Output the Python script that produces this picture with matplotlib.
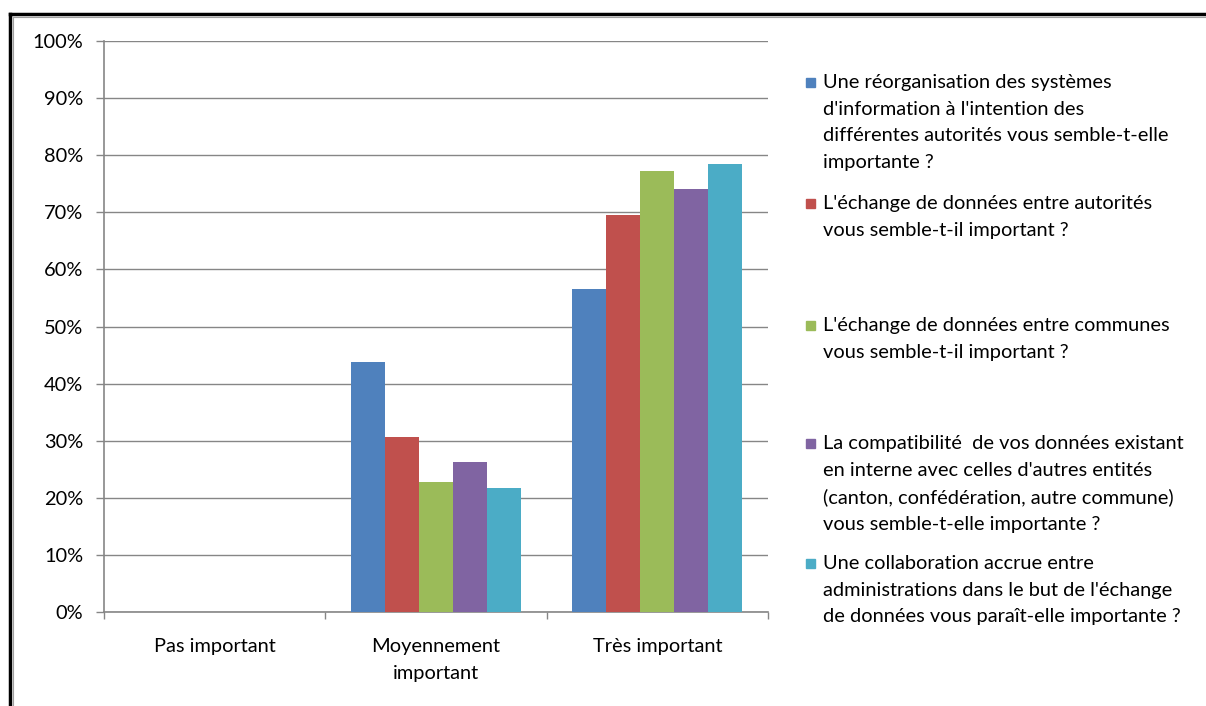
import matplotlib.pyplot as plt
import numpy as np
from matplotlib.lines import Line2D
from matplotlib.patches import Rectangle

categories = ["Pas important", "Moyennement\nimportant", "Très important"]
series_labels = [
    "Une réorganisation des systèmes\nd'information à l'intention des\ndifférentes autorités vous semble-t-elle\nimportante ?",
    "L'échange de données entre autorités\nvous semble-t-il important ?",
    "L'échange de données entre communes\nvous semble-t-il important ?",
    "La compatibilité  de vos données existant\nen interne avec celles d'autres entités\n(canton, confédération, autre commune)\nvous semble-t-elle importante ?",
    "Une collaboration accrue entre\nadministrations dans le but de l'échange\nde données vous paraît-elle importante ?",
]
reorganisation = [0.0, 43.7, 56.5]
echange_autorites = [0.0, 30.6, 69.6]
echange_communes = [0.0, 22.7, 77.2]
compatibilite = [0.0, 26.2, 74.0]
collaboration = [0.0, 21.8, 78.4]
series_values = [reorganisation, echange_autorites, echange_communes,
                 compatibilite, collaboration]
colors = ["#4F81BD", "#C0504D", "#9BBB59", "#8064A2", "#4BACC6"]

plt.rcParams["font.family"] = ["Lato", "DejaVu Sans"]

W, H = 1206, 706
FS = 14.4
fig = plt.figure(figsize=(W / 100, H / 100), dpi=100)
ax = fig.add_axes([104 / W, (H - 612) / H, (768 - 104) / W, (612 - 41) / H])

x = np.arange(len(categories))
bw = 1 / 6.5
for i, (vals, c) in enumerate(zip(series_values, colors)):
    ax.bar(x + (i - 2) * bw, vals, width=bw, color=c, linewidth=0, zorder=3)

grid_c = "#868686"
ax.set_xlim(-0.5, 2.5)
ax.set_ylim(0, 100)
ax.set_yticks(np.arange(0, 101, 10))
ax.set_yticklabels([f"{v}%" for v in range(0, 101, 10)], fontsize=FS)
ax.yaxis.grid(True, color=grid_c, linewidth=1)
ax.set_axisbelow(True)
ax.set_xticks(x)
ax.set_xticklabels(categories, fontsize=FS, linespacing=1.7)
ax.set_xticks([-0.5, 0.5, 1.5, 2.5], minor=True)
ax.tick_params(axis="x", which="major", length=0, pad=19)
ax.tick_params(axis="x", which="minor", length=5, color=grid_c, width=1)
ax.tick_params(axis="y", length=6, color=grid_c, width=1, pad=9)
for side in ("top", "right"):
    ax.spines[side].set_visible(False)
for side in ("left", "bottom"):
    ax.spines[side].set_color(grid_c)
    ax.spines[side].set_linewidth(1.2)

# legend drawn by hand, entries spread like Excel does
leg_y = [82, 203, 325, 443, 563]
for lab, c, y in zip(series_labels, colors, leg_y):
    fig.patches.append(Rectangle((806 / W, 1 - (y + 5) / H), 9 / W, 9 / H,
                                 transform=fig.transFigure, color=c))
    fig.text(823 / W, 1 - (y - 8) / H, lab, fontsize=FS, va="top",
             ha="left", linespacing=1.68)

# outer frame (left and top edges)
fig.add_artist(Line2D([9.5 / W, 9.5 / W], [0, 1 - 14 / H], color="black", lw=2.5))
fig.add_artist(Line2D([9.5 / W, 1], [1 - 14 / H, 1 - 14 / H], color="black", lw=2.5))
fig.add_artist(Line2D([12.5 / W, 12.5 / W], [0, 1 - 17 / H], color="#A0A0A0", lw=0.8))
fig.add_artist(Line2D([12.5 / W, 1], [1 - 17 / H, 1 - 17 / H], color="#A0A0A0", lw=0.8))

fig.savefig("out.png", dpi=100)
